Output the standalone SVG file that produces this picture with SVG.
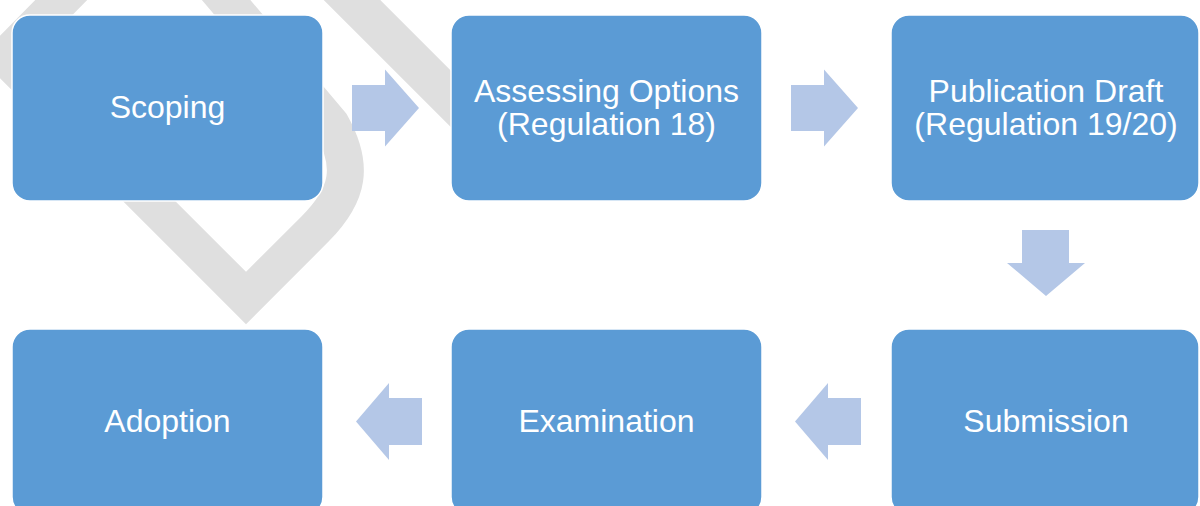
<svg xmlns="http://www.w3.org/2000/svg" width="1200" height="506" viewBox="0 0 1200 506">
  <style>
    .wm { fill: none; stroke: #dfdfdf; stroke-width: 37; stroke-linejoin: miter; stroke-miterlimit: 10; }
    .box { fill: #5B9BD5; stroke: #ffffff; stroke-width: 1.5; }
    .lbl { fill: #ffffff; font-family: "Liberation Sans", Arial, sans-serif; font-size: 32px; text-anchor: middle; }
    .arr { fill: #B4C7E7; }
  </style>
  <rect width="1200" height="506" fill="#ffffff"/>
  <g id="watermark">
    <path class="wm" d="M150,-90 L5,57 L246,298 L315,229 C350,194 354,165 331,124 L150,-90"/>
    <path class="wm" style="stroke-width:40" d="M330,-22 L530,178"/>
  </g>
  <g id="connectors">
    <polygon class="arr" points="352,85 385,85 385,69.5 419,108 385,146.5 385,131 352,131"/>
    <polygon class="arr" points="791,85 824,85 824,69.5 858,108 824,146.5 824,131 791,131"/>
    <polygon class="arr" points="1022,230 1069,230 1069,263 1085,263 1046,296 1007,263 1022,263"/>
    <polygon class="arr" points="861,398 828,398 828,383 795,421.5 828,460 828,445 861,445"/>
    <polygon class="arr" points="422,398 389,398 389,383 356,421.5 389,460 389,445 422,445"/>
  </g>
  <g id="scoping">
    <rect class="box" x="12" y="15" width="311" height="186" rx="18"/>
    <text class="lbl" x="167.5" y="118">Scoping</text>
  </g>
  <g id="assessing-options">
    <rect class="box" x="451" y="15" width="311" height="186" rx="18"/>
    <text class="lbl" x="606.5" y="102">Assessing Options</text>
    <text class="lbl" x="606.5" y="135">(Regulation 18)</text>
  </g>
  <g id="publication-draft">
    <rect class="box" x="891" y="15" width="308" height="186" rx="18"/>
    <text class="lbl" x="1046" y="102">Publication Draft</text>
    <text class="lbl" x="1046" y="135">(Regulation 19/20)</text>
  </g>
  <g id="submission">
    <rect class="box" x="891" y="329" width="308" height="186" rx="18"/>
    <text class="lbl" x="1046" y="432">Submission</text>
  </g>
  <g id="examination">
    <rect class="box" x="451" y="329" width="311" height="186" rx="18"/>
    <text class="lbl" x="606.5" y="432">Examination</text>
  </g>
  <g id="adoption">
    <rect class="box" x="12" y="329" width="311" height="186" rx="18"/>
    <text class="lbl" x="167.5" y="432">Adoption</text>
  </g>
</svg>
